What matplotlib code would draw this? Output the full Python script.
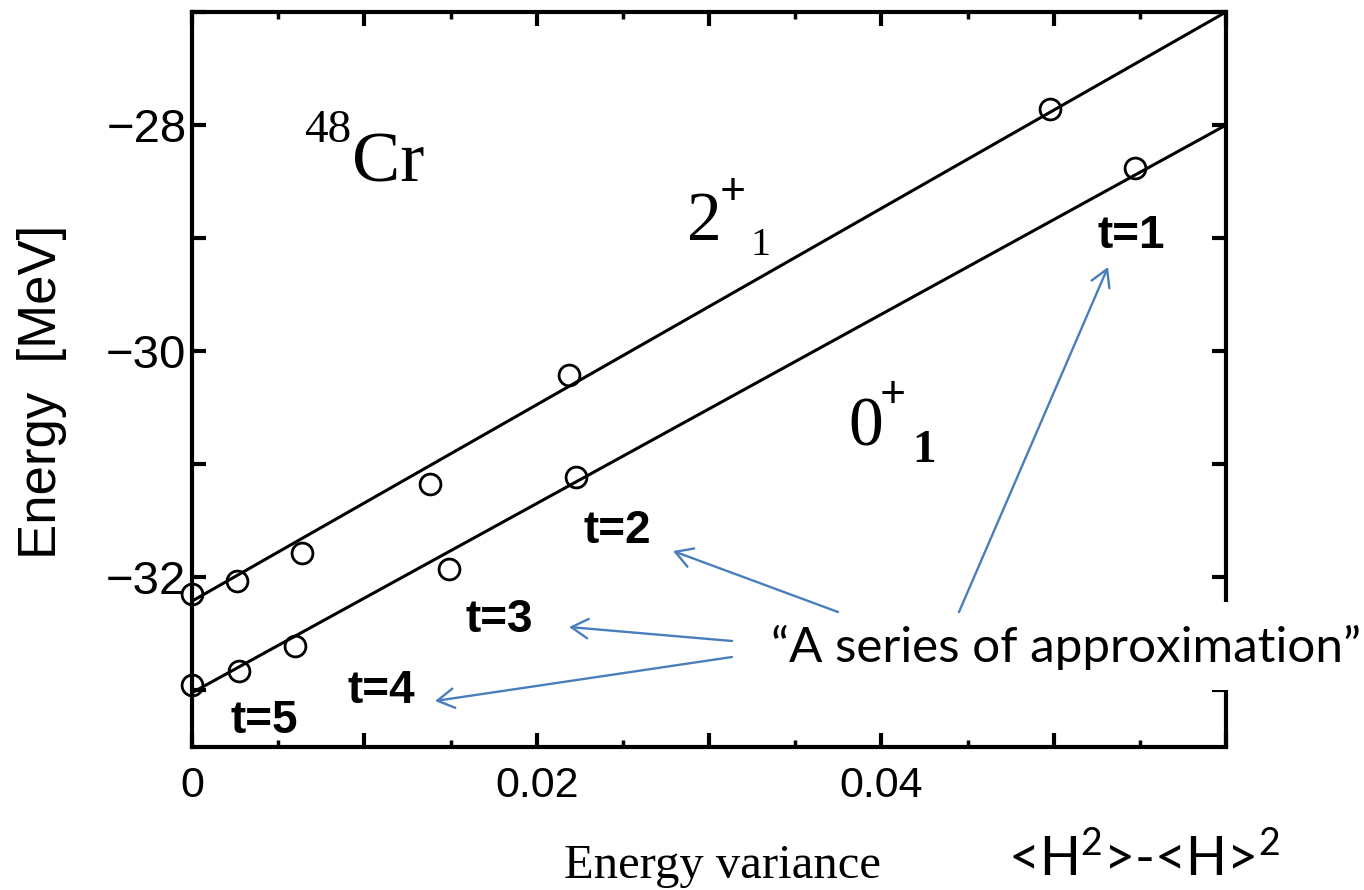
import matplotlib
matplotlib.use('Agg')
import matplotlib.pyplot as plt
from matplotlib.ticker import MultipleLocator
from matplotlib.patches import Rectangle, FancyArrowPatch

W, H, DPI = 1364, 890, 100

# ---------------- data ----------------
var_2plus = [0.0, 0.0026, 0.0064, 0.0138, 0.0219, 0.0498]
E_2plus = [-32.15, -32.03, -31.78, -31.17, -30.21, -27.86]
var_0plus = [0.0, 0.0027, 0.0060, 0.0149, 0.0223, 0.0547]
E_0plus = [-32.95, -32.83, -32.61, -31.93, -31.11, -28.38]
fit_var = [0.0, 0.06]
fit_2plus = [-32.21, -27.0]
fit_0plus = [-33.02, -28.0]

xtick_vals = [0.0, 0.01, 0.02, 0.03, 0.04, 0.05, 0.06]
xtick_labels = ['0', '', '0.02', '', '0.04', '', '']
ytick_vals = [-33, -32, -31, -30, -29, -28, -27]
ytick_labels = ['', '\u221232', '', '\u221230', '', '\u221228', '']
t_labels = ['t=1', 't=2', 't=3', 't=4', 't=5']

plt.rcParams['mathtext.fontset'] = 'custom'
plt.rcParams['mathtext.rm'] = 'Lato'
plt.rcParams['mathtext.it'] = 'Lato:italic'

fig = plt.figure(figsize=(W / DPI, H / DPI), dpi=DPI)
fig.patch.set_facecolor('white')


def fp(x, y):
    """pixel (from top-left) -> figure fraction"""
    return (x / W, 1 - y / H)


ax = fig.add_axes([192 / W, 1 - 747 / H, (1226 - 192) / W, (747 - 12) / H])
ax.set_xlim(0, 0.06)
ax.set_ylim(-33.5, -27.0)

ax.plot(fit_var, fit_2plus, color='black', lw=2.2, zorder=2)
ax.plot(fit_var, fit_0plus, color='black', lw=2.2, zorder=2)
ax.plot(var_2plus, E_2plus, linestyle='none', marker='o', ms=15, mfc='none',
        mec='black', mew=2.0, clip_on=False, zorder=3)
ax.plot(var_0plus, E_0plus, linestyle='none', marker='o', ms=15, mfc='none',
        mec='black', mew=2.0, clip_on=False, zorder=3)

for s in ax.spines.values():
    s.set_linewidth(3.0)

ax.set_xticks(xtick_vals, xtick_labels)
ax.xaxis.set_minor_locator(MultipleLocator(0.005))
ax.set_yticks(ytick_vals, ytick_labels)
ax.tick_params(axis='both', which='major', direction='in', top=True, right=True,
               length=10, width=3)
ax.tick_params(axis='x', which='minor', direction='in', top=True, bottom=True,
               length=5, width=2.5)
ax.tick_params(axis='y', which='major', labelsize=34, pad=4)
ax.tick_params(axis='x', which='major', labelsize=31, pad=14)
for lab in ax.get_xticklabels() + ax.get_yticklabels():
    lab.set_fontfamily('Liberation Sans')

# axis titles
fig.text(*fp(42, 392), 'Energy  [MeV]', rotation=90, ha='center', va='center',
         family='Liberation Sans', size=38)
fig.text(*fp(722, 878), 'Energy variance', ha='center', va='baseline',
         family='Liberation Serif', size=35)

# nucleus and state labels
serif = 'Liberation Serif'
fig.text(*fp(304, 142), '48', family=serif, size=34, va='baseline')
fig.text(*fp(352, 181), 'Cr', family=serif, size=52, va='baseline')
fig.text(*fp(687, 240), '2', family=serif, size=50, va='baseline')
fig.text(*fp(720, 205), '+', family=serif, size=33, weight='bold', va='baseline')
fig.text(*fp(751, 255), '1', family=serif, size=29, va='baseline')
fig.text(*fp(848, 445), '0', family=serif, size=50, va='baseline')
fig.text(*fp(880, 408), '+', family=serif, size=33, weight='bold', va='baseline')
fig.text(*fp(912, 462), '1', family=serif, size=34, weight='bold', va='baseline')

# t labels
t_pos = [(1097, 248), (584, 543), (466, 632), (347, 703), (231, 733)]
for lab, (px, py) in zip(t_labels, t_pos):
    fig.text(*fp(px, py), lab, family='Liberation Sans', weight='bold', size=33,
             va='baseline')

# white text box covering part of the right spine
fig.add_artist(Rectangle(fp(735, 690), (1364 - 735) / W, (690 - 602) / H,
                         transform=fig.transFigure, facecolor='white',
                         edgecolor='none', zorder=3))

blue = '#4A7EBB'
arrows = [((959, 612), (1108, 267)), ((838, 612), (673, 551)),
          ((732, 641), (569, 627)), ((732, 657), (435, 701))]
for (a, b) in arrows:
    fig.add_artist(FancyArrowPatch(fp(*a), fp(*b), transform=fig.transFigure,
                                   arrowstyle='->,head_length=0.6,head_width=0.35',
                                   mutation_scale=20, color=blue, lw=1.7,
                                   shrinkA=0, shrinkB=0, zorder=5))

t_series = fig.text(*fp(771, 662), '\u201cA series of approximation\u201d',
                    family='Lato', size=36, va='baseline', ha='left', zorder=6)
t_var = fig.text(*fp(1008, 876), r'<H$^{\mathrm{2}}$>-<H>$^{\mathrm{2}}$',
                 family='Lato', size=44, va='baseline', ha='left', zorder=6)

renderer = fig.canvas.get_renderer()
for t, target in [(t_series, 590), (t_var, 272)]:
    for _ in range(3):
        bb = t.get_window_extent(renderer)
        t.set_fontsize(t.get_fontsize() * target / bb.width)

fig.savefig('out.png', dpi=DPI, facecolor='white')
